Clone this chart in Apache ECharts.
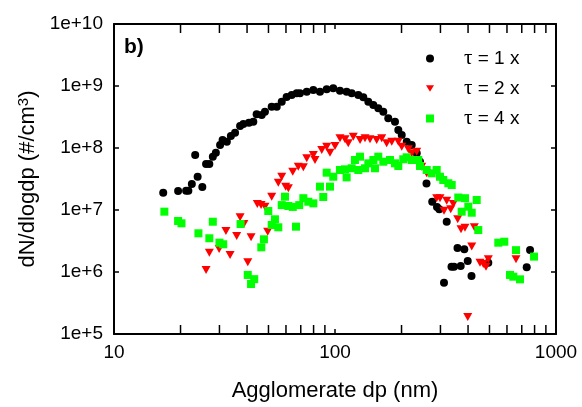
<!DOCTYPE html>
<html><head><meta charset="utf-8">
<script src="https://cdn.jsdelivr.net/npm/echarts@6/dist/echarts.min.js"></script>
<style>html,body{margin:0;padding:0;background:#fff}#c{width:582px;height:407px}</style>
</head><body><div id="c"></div>
<script>
const blackX = [16.7,19.5,21.2,21.7,22.5,23.3,23.9,25.1,26.1,27.0,28.0,28.9,30.2,31.0,32.4,33.8,35.3,37.2,38.5,40.8,42.7,44.2,46.6,48.2,51.7,54.5,57.4,60.4,63.7,67.1,69.4,74.5,79.8,85.5,91.7,98.2,105.3,112.9,119.0,127.5,134.3,141.5,149.1,157.0,165.4,174.2,186.8,193.4,200.4,211.1,222.4,234.3,242.5,259.4,275.4,289.4,296.4,320.2,311.3,336.6,345.5,358.3,370.5,384.7,398.6,414.6,494.0,737,763];
const blackY = [1.90e7,2.02e7,2.05e7,2.05e7,2.62e7,7.71e7,3.44e7,2.35e7,5.52e7,5.52e7,7.24e7,8.40e7,1.12e8,1.35e8,1.26e8,1.56e8,1.77e8,2.26e8,2.44e8,2.56e8,2.66e8,3.50e8,3.41e8,3.85e8,4.64e8,4.64e8,5.58e8,6.65e8,7.16e8,7.63e8,7.63e8,8.09e8,8.61e8,8.09e8,8.85e8,9.19e8,8.40e8,8.09e8,7.63e8,7.16e8,6.58e8,5.58e8,4.94e8,4.37e8,3.85e8,3.01e8,2.66e8,1.95e8,1.62e8,1.26e8,1.12e8,8.22e7,6.01e7,2.67e7,1.36e7,1.12e7,1.03e7,6.47e6,6.71e5,1.21e6,1.22e6,2.44e6,1.25e6,2.33e6,1.50e6,8.61e5,1.41e6,1.19e6,2.26e6];
const redX = [26.1,27.0,29.9,32.1,33.5,35.9,37.2,38.7,40.3,41.7,44.5,46.3,48.2,49.6,51.7,55.4,57.4,59.8,61.5,64.4,68.2,71.9,74.5,79.8,81.2,87.1,91.7,94.9,100,105.3,111,114.8,121.0,129.8,136.7,144,154.4,162.7,171.3,180.6,193.4,200.4,214.7,222.4,234.3,246.8,260.0,288.5,298.6,311.3,320.2,333.9,343.1,359.1,371.6,387.4,398.6,415.6,426.9,453.0,468.8,482.3,494.0,659.2];
const redY = [1.08e6,2.05e6,2.35e6,4.58e6,1.88e6,3.81e6,7.62e6,5.94e6,1.43e6,3.63e6,1.25e7,1.20e7,1.13e7,4.47e6,1.64e7,2.76e7,3.44e7,2.38e7,2.24e7,4.15e7,4.99e7,4.88e7,6.82e7,7.71e7,6.40e7,9.29e7,1.05e8,8.40e7,1.08e8,1.43e8,1.38e8,1.19e8,1.52e8,1.35e8,1.43e8,1.38e8,1.35e8,1.43e8,1.19e8,1.26e8,1.26e8,1.05e8,9.59e7,8.22e7,8.71e7,4.99e7,3.91e7,1.55e7,1.55e7,9.75e6,1.41e7,1.03e7,1.25e7,7.12e6,4.89e6,5.19e6,1.88e5,2.58e6,5.26e6,1.41e6,1.35e6,1.22e6,1.60e6,1.60e6];
const greenX = [16.9,19.5,20.2,24.1,27.0,28.0,30.0,31.2,37.4,40.3,41.7,43.1,46.4,47.7,49.9,51.7,53.5,55.4,57.4,59.4,61.5,64.4,66.6,68.9,71.9,75.7,79.8,85.5,88.5,91.7,94.9,98.2,105.3,111,112.9,119,123.1,127.5,129.8,136.7,141.5,149.1,151.7,157,165.4,177.4,186.8,193.4,203.7,211.1,222.4,238.2,242.5,260,273.9,288.5,298.6,309,325.7,337.4,361.3,387.4,374.3,401.1,415.6,437.7,445,548.2,583.5,619.4,641,659.2,687.3,795.4];
const greenY = [9.40e6,6.65e6,6.10e6,4.21e6,3.50e6,6.47e6,2.97e6,2.80e6,5.94e6,8.96e5,6.40e5,7.67e5,2.50e6,3.37e6,9.64e6,5.73e6,7.08e6,5.26e6,1.20e7,1.64e7,1.16e7,1.12e7,5.38e6,1.20e7,1.55e7,1.36e7,1.28e7,2.38e7,1.62e7,4.00e7,2.38e7,3.44e7,4.42e7,4.53e7,3.36e7,4.71e7,6.40e7,4.42e7,7.24e7,4.71e7,5.66e7,6.40e7,4.71e7,7.24e7,6.01e7,6.40e7,5.66e7,5.13e7,6.58e7,7.08e7,6.40e7,6.40e7,5.13e7,4.42e7,3.91e7,4.42e7,3.44e7,3.05e7,2.70e7,2.53e7,1.59e7,1.55e7,9.40e6,1.13e7,9.04e6,1.45e7,4.75e6,2.97e6,3.08e6,8.96e5,8.40e5,2.25e6,7.62e5,1.77e6];
const seriesNames = ['τ = 1 x', 'τ = 2 x', 'τ = 4 x'];
const xMin = 10, xMax = 1000, yMin = 1e5, yMax = 1e10;
const xMinorTicks = [20,30,40,50,60,70,80,90,200,300,400,500,600,700,800,900];
const xTitle = 'Agglomerate dp (nm)';
const yTitle = 'dN/dlogdp (#/cm{sup|3})';
const panelLabel = 'b)';

const zip = (xs, ys) => xs.map((x, i) => [x, ys[i]]);
const FONT = 'Liberation Sans';
const TRI_DOWN = 'path://M0,0 L10,0 L5,8 Z';
const axisCommon = {
  type: 'log', logBase: 10, interval: 1,
  axisLine: { show: true, onZero: false, lineStyle: { color: '#000', width: 2 } },
  axisTick: { show: true, inside: true, length: 5, lineStyle: { color: '#000', width: 1.5 } },
  splitLine: { show: false },
  minorTick: { show: false }
};
const chart = echarts.init(document.getElementById('c'), null, { renderer: 'canvas' });
chart.setOption({
  animation: false,
  backgroundColor: '#fff',
  textStyle: { fontFamily: FONT },
  title: { text: panelLabel, left: 124, top: 37, padding: 0,
    textStyle: { fontSize: 21, fontWeight: 'bold', color: '#000', fontFamily: FONT } },
  grid: { left: 114, right: 26, top: 24, bottom: 73, containLabel: false },
  legend: {
    data: [
      { name: seriesNames[0], icon: 'circle' },
      { name: seriesNames[1], icon: TRI_DOWN },
      { name: seriesNames[2], icon: 'rect' }
    ],
    orient: 'vertical', left: 421, top: 43,
    itemWidth: 8, itemHeight: 8, itemGap: 9,
    formatter: name => '{g| }{t|τ}' + name.slice(1),
    textStyle: { fontSize: 19, color: '#000', fontFamily: FONT,
      rich: { g: { width: 25 }, t: { fontSize: 21, fontFamily: 'Liberation Serif', color: '#000' } } }
  },
  xAxis: [
    Object.assign({}, axisCommon, { position: 'bottom', min: xMin, max: xMax,
      axisLabel: { color: '#000', fontSize: 19, margin: 9, fontFamily: FONT, formatter: v => String(Math.round(v)) },
      name: xTitle, nameLocation: 'middle', nameGap: 46,
      nameTextStyle: { fontSize: 22, color: '#000', fontFamily: FONT } }),
    Object.assign({}, axisCommon, { position: 'top', min: xMin, max: xMax, axisLabel: { show: false } })
  ],
  yAxis: [
    Object.assign({}, axisCommon, { position: 'left', min: yMin, max: yMax,
      axisLabel: { color: '#000', fontSize: 19, margin: 11, fontFamily: FONT,
        formatter: v => '1e+' + Math.round(Math.log10(v)) },
      name: yTitle, nameLocation: 'middle', nameGap: 73,
      nameTextStyle: { fontSize: 22, color: '#000', fontFamily: FONT,
        rich: { sup: { fontSize: 15, verticalAlign: 'top', color: '#000', fontFamily: FONT } } } }),
    Object.assign({}, axisCommon, { position: 'right', min: yMin, max: yMax, axisLabel: { show: false } })
  ],
  series: [
    { type: 'custom', name: 'minorTicks', silent: true, clip: false, z: 5,
      xAxisIndex: 0, yAxisIndex: 0,
      data: xMinorTicks.map(v => [v, yMin]), encode: { x: 0, y: 1 },
      renderItem: (params, api) => {
        const v = api.value(0);
        const b = api.coord([v, yMin]);
        const t = api.coord([v, yMax]);
        return { type: 'group', children: [
          { type: 'line', shape: { x1: b[0], y1: b[1], x2: b[0], y2: b[1] - 9 }, style: { stroke: '#000', lineWidth: 1.5 } },
          { type: 'line', shape: { x1: t[0], y1: t[1], x2: t[0], y2: t[1] + 9 }, style: { stroke: '#000', lineWidth: 1.5 } }
        ] };
      } },
    { type: 'scatter', name: seriesNames[0], data: zip(blackX, blackY), symbol: 'circle', symbolSize: 8,
      itemStyle: { color: '#000000', opacity: 1 } },
    { type: 'scatter', name: seriesNames[1], data: zip(redX, redY), symbol: 'triangle', symbolRotate: 180, symbolSize: [9, 8],
      itemStyle: { color: '#ff0000', opacity: 1 } },
    { type: 'scatter', name: seriesNames[2], data: zip(greenX, greenY), symbol: 'rect', symbolSize: 8,
      itemStyle: { color: '#00ff00', opacity: 1 } }
  ]
});
</script></body></html>
